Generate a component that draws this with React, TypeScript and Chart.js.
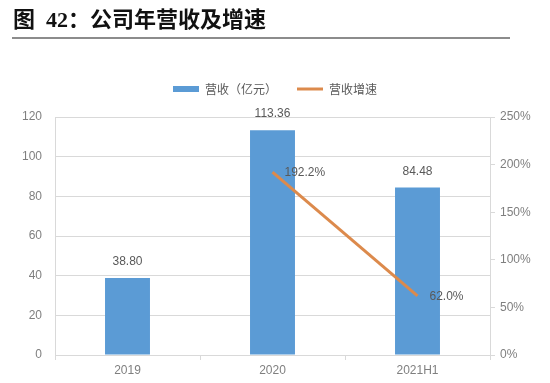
import React, { useEffect, useRef } from "react";
import { Chart, registerables } from "chart.js";

Chart.register(...registerables);

const categories = ["2019", "2020", "2021H1"];
const revenue = [38.8, 113.36, 84.48];
const growth: (number | null)[] = [null, 192.2, 62.0];
const leftTicks = [0, 20, 40, 60, 80, 100, 120];
const rightTicks = [0, 50, 100, 150, 200, 250];
const seriesNames = ["营收（亿元）", "营收增速"];

const BLUE = "#5B9BD5";
const ORANGE = "#DC8A4C";
const GRID = "#D9D9D9";
const TICK = "#7F7F7F";
const LABEL = "#595959";
const NUM_FONT = { family: '"Liberation Sans", "Noto Sans CJK SC", sans-serif', size: 12 };

const LEGEND_EXTRA = 12;

const legendSpacer = {
  id: "legendSpacer",
  beforeLayout(chart: any) {
    const lg = chart.legend;
    if (lg && !lg.__wrapped) {
      const orig = lg.fit;
      lg.fit = function () {
        orig.call(this);
        this.height += LEGEND_EXTRA;
      };
      lg.__wrapped = true;
    }
  },
};

const valueLabels = {
  id: "valueLabels",
  afterDatasetsDraw(chart: any) {
    const ctx = chart.ctx;
    ctx.save();
    ctx.font = '12px "Liberation Sans", "Noto Sans CJK SC", sans-serif';
    ctx.fillStyle = LABEL;
    ctx.textBaseline = "middle";
    const barMeta = chart.getDatasetMeta(0);
    barMeta.data.forEach((el: any, i: number) => {
      ctx.textAlign = "center";
      ctx.fillText(revenue[i].toFixed(2), el.x, el.y - 16);
    });
    const lineMeta = chart.getDatasetMeta(1);
    lineMeta.data.forEach((el: any, i: number) => {
      const v = growth[i];
      if (v == null) return;
      ctx.textAlign = "left";
      ctx.fillText(v.toFixed(1) + "%", el.x + 12, el.y + 1);
    });
    ctx.restore();
  },
};

export default function App() {
  const ref = useRef<HTMLCanvasElement | null>(null);

  useEffect(() => {
    if (!ref.current) return;
    const chart = new Chart(ref.current, {
      type: "bar",
      data: {
        labels: categories,
        datasets: [
          {
            type: "bar",
            label: seriesNames[0],
            data: revenue,
            backgroundColor: BLUE,
            borderWidth: 0,
            categoryPercentage: 1,
            barPercentage: 0.31,
            yAxisID: "y",
            order: 1,
            pointStyle: "rect",
          } as any,
          {
            type: "line",
            label: seriesNames[1],
            data: growth,
            borderColor: ORANGE,
            backgroundColor: ORANGE,
            borderWidth: 3,
            pointRadius: 0,
            pointStyle: "line",
            yAxisID: "y1",
            order: 0,
            spanGaps: false,
          } as any,
        ],
      },
      options: {
        responsive: false,
        animation: false,
        devicePixelRatio: 1,
        layout: { padding: { top: 63, left: 0, right: 0, bottom: 0 } },
        plugins: {
          tooltip: { enabled: false },
          legend: {
            display: true,
            position: "top",
            labels: {
              usePointStyle: true,
              pointStyleWidth: 26,
              boxHeight: 6,
              padding: 20,
              color: LABEL,
              font: { family: '"Noto Sans CJK SC", sans-serif', size: 12 },
              sort: (a: any, b: any) => a.datasetIndex - b.datasetIndex,
            },
          },
        },
        scales: {
          x: {
            offset: true,
            grid: {
              offset: true,
              drawOnChartArea: false,
              drawTicks: true,
              tickLength: 5,
              color: GRID,
            },
            border: { display: true, color: GRID },
            ticks: { color: TICK, font: NUM_FONT, padding: 3 },
            afterFit(s: any) {
              s.height = 28;
            },
          },
          y: {
            position: "left",
            min: 0,
            max: 120,
            grid: { color: GRID, drawTicks: false },
            border: { display: true, color: GRID },
            ticks: { color: TICK, font: NUM_FONT, padding: 13 },
            afterBuildTicks(s: any) {
              s.ticks = leftTicks.map((v) => ({ value: v }));
            },
            afterFit(s: any) {
              s.width = 55;
            },
          },
          y1: {
            position: "right",
            min: 0,
            max: 250,
            grid: { drawOnChartArea: false, drawTicks: true, tickLength: 5, color: GRID },
            border: { display: true, color: GRID },
            ticks: {
              color: TICK,
              font: NUM_FONT,
              padding: 5,
              callback: (v: any) => v + "%",
            },
            afterBuildTicks(s: any) {
              s.ticks = rightTicks.map((v) => ({ value: v }));
            },
            afterFit(s: any) {
              s.width = 60;
            },
          },
        },
      } as any,
      plugins: [legendSpacer, valueLabels],
    });
    return () => chart.destroy();
  }, []);

  return (
    <div style={{ position: "absolute", left: 0, top: 0, width: 550, height: 383, background: "#fff", overflow: "hidden" }}>
      <canvas ref={ref} width={550} height={383} style={{ position: "absolute", left: 0, top: 0, width: 550, height: 383 }} />
      <div
        style={{
          position: "absolute",
          left: 13,
          top: 5,
          fontFamily: '"Liberation Serif", "Noto Sans CJK SC", serif',
          fontWeight: "bold",
          fontSize: 22,
          lineHeight: "30px",
          color: "#111",
          whiteSpace: "nowrap",
        }}
      >
        图&nbsp;&nbsp;42：公司年营收及增速
      </div>
      <div style={{ position: "absolute", left: 12, top: 37, width: 498, height: 0, borderTop: "2px solid #8C8C8C" }} />
    </div>
  );
}
